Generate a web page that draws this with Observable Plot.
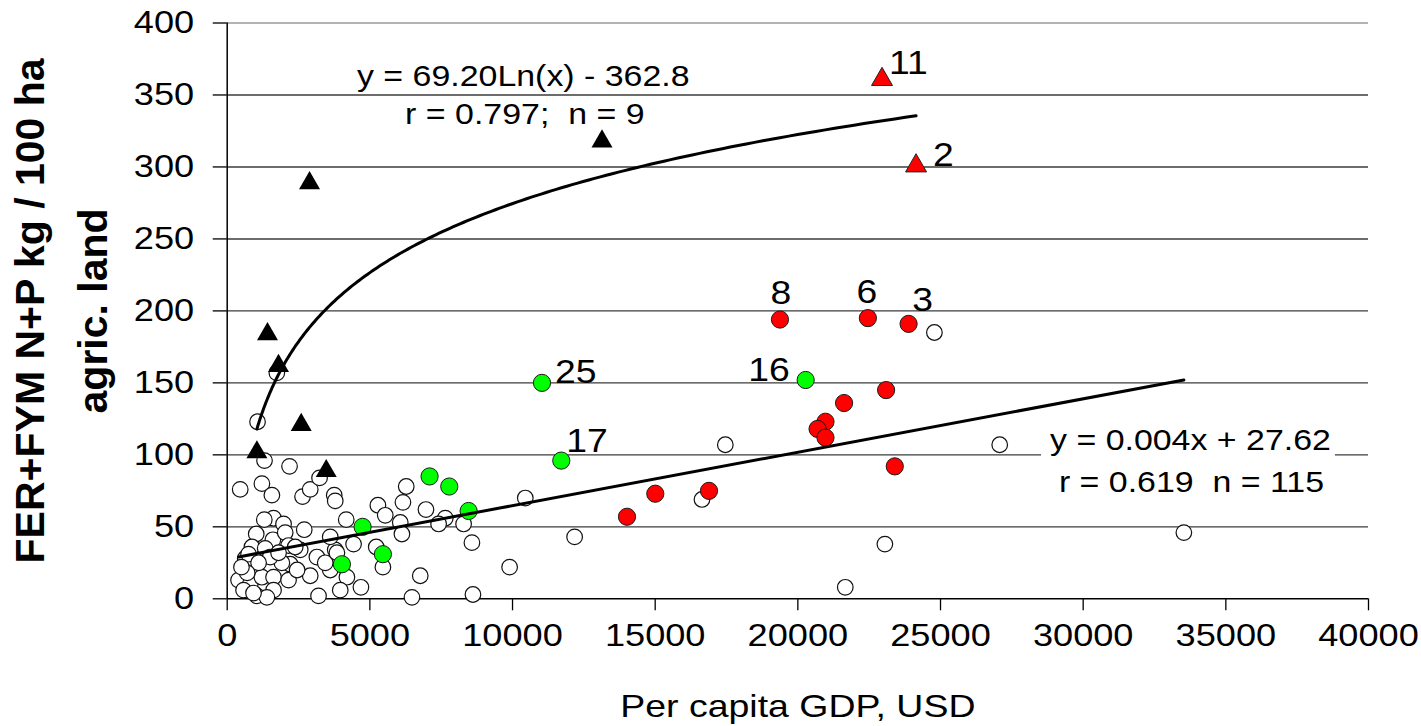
<!DOCTYPE html>
<html><head><meta charset="utf-8">
<script src="https://cdn.jsdelivr.net/npm/d3@7"></script>
<script src="https://cdn.jsdelivr.net/npm/@observablehq/plot@0.6"></script>
<style>html,body{margin:0;padding:0;background:#fff;} #chart svg{display:block;}</style>
</head><body><div id="chart"></div>
<script>
// ---------- data ----------
const xTicks = [0, 5000, 10000, 15000, 20000, 25000, 30000, 35000, 40000];
const yTicks = [0, 50, 100, 150, 200, 250, 300, 350, 400];
const xTitle = "Per capita GDP, USD";
const yTitleLines = ["FER+FYM N+P kg / 100 ha", "agric. land"];

// open circles: [GDP, FER+FYM]
const openPts = [
  [1063,123],[1308,96],[2185,92],[456,76],[1216,80],[1566,72],[2641,71],[2910,76],[3237,84],[3751,72],
  [3786,68],[6275,78],[6159,67],[5282,65],[6966,62],[5539,58],[4172,55],[6065,53],[7643,56],[7409,52],
  [8285,52],[6124,45],[4429,38],[5223,36],[5457,22],[8577,39],[3786,34],[4196,15],[3962,6],[4687,8],
  [6766,16],[6475,1],[8613,3],[3611,20],[3611,43],[1624,56],[1975,52],[1017,45],[1601,41],[2033,46],
  [2559,34],[2150,37],[866,36],[1332,35],[631,28],[866,22],[2209,24],[1916,25],[397,13],[806,10],
  [1216,15],[1624,15],[2150,13],[1624,6],[1041,2],[573,6],[1391,1],[2910,16],[3201,2],[3144,29],
  [3436,25],[2384,36],[747,31],[1507,29],[3845,32],[922,4],[10447,70],[12176,43],[9898,22],[16640,69],
  [17458,107],[24786,185],[27075,107],[23050,38],[21662,8],[33529,46],[1740,157],[1100,25],[700,18],[2450,20],
  [1800,32],[2700,48],[1300,55],[500,22]
];

const greenGDP = [11032, 11709, 20274, 7093, 7783, 8461, 4745, 5457, 4020];
const greenFer = [150, 96, 152, 85, 78, 61, 50, 31, 24];
const greenIds = ["25", "17", "16", null, null, null, null, null, null];

const redGDP = [19373, 22454, 23881, 23093, 21620, 20968, 20691, 20968, 23397, 14012, 15004, 16886];
const redFer = [194, 195, 191, 145, 136, 123, 118, 112, 92, 57, 73, 75];
const redIds = ["8", "6", "3", null, null, null, null, null, null, null, null, null];

const blackTriGDP = [1041, 1412, 1798, 2594, 2886, 3471, 13136];
const blackTriFer = [104, 186, 164, 123, 291, 91, 320];

const redTriGDP = [22950, 24143];
const redTriFer = [363, 303];
const redTriIds = ["11", "2"];

// trend lines (from the chart's equations)
const logFit = {a: 69.20, b: -362.8};
const linFit = {slope: 0.00371, intercept: 27.62};

const eqLabels = [
  {x: 10377, y: 356.5, text: "y = 69.20Ln(x) - 362.8"},
  {x: 10430, y: 329.5, text: "r = 0.797;  n = 9"},
  {x: 33760, y: 103.3, text: "y = 0.004x + 27.62", boxed: true},
  {x: 33795, y: 74.4, text: "r = 0.619  n = 115"}
];

// ---------- layout ----------
const labelLayout = {
  "11": {dx: 7, dy: -2, anchor: "start"},
  "2": {dx: 17, dy: 3, anchor: "start"},
  "8": {dx: 1, dy: -16, anchor: "middle"},
  "6": {dx: -1, dy: -15, anchor: "middle"},
  "3": {dx: 14, dy: -13, anchor: "middle"},
  "16": {dx: -16, dy: 1, anchor: "end"},
  "25": {dx: 13, dy: 0, anchor: "start"},
  "17": {dx: 5, dy: -9, anchor: "start"}
};

const FONT = "'Liberation Sans', Arial, sans-serif";
const toPts = (xs, ys, ids) => xs.map((x, i) => ({gdp: x, fer: ys[i], id: ids ? ids[i] : null}));

const openData = openPts.map(([x, y]) => ({gdp: x, fer: y, id: null}));
const greenData = toPts(greenGDP, greenFer, greenIds);
const redData = toPts(redGDP, redFer, redIds);
const blackTri = toPts(blackTriGDP, blackTriFer, null);
const redTri = toPts(redTriGDP, redTriFer, redTriIds);

const triAll = blackTri.concat(redTri);
const allPts = openData.concat(greenData, redData, triAll);

const [lx0, lx1] = d3.extent(triAll, d => d.gdp);
const logCurve = d3.range(0, 201).map(i => {
  const x = lx0 * Math.pow(lx1 / lx0, i / 200);
  return {gdp: x, fer: logFit.a * Math.log(x) + logFit.b};
});
const [ax0, ax1] = d3.extent(allPts, d => d.gdp);
const linLine = [ax0, ax1].map(x => ({gdp: x, fer: linFit.slope * x + linFit.intercept}));

const labeled = allPts.filter(d => d.id);

const labelMarks = Object.entries(labelLayout).map(([id, o]) =>
  Plot.text(labeled.filter(d => d.id === id), {
    x: "gdp", y: "fer", text: "id", dx: o.dx, dy: o.dy, textAnchor: o.anchor,
    lineAnchor: "bottom", fontSize: 33, fill: "black"
  })
);

const svg = Plot.plot({
  width: 1421,
  height: 726,
  marginLeft: 226.7,
  marginRight: 53,
  marginTop: 22.5,
  marginBottom: 127.7,
  style: {fontFamily: FONT, background: "white", color: "black", overflow: "visible"},
  x: {domain: [0, 40000], label: null},
  y: {domain: [0, 400], label: null},
  marks: [
    Plot.gridY(yTicks.filter(v => v > 0 && v < 400), {stroke: "#3c3c3c", strokeOpacity: 1, strokeWidth: 1.4}),
    Plot.gridY([400], {stroke: "#9a9a9a", strokeOpacity: 1, strokeWidth: 1.4}),
    Plot.ruleX([0], {stroke: "black", strokeWidth: 1.5}),
    Plot.ruleY([0], {stroke: "black", strokeWidth: 1.5}),
    Plot.axisY(yTicks, {tickSize: 14, tickPadding: 19, fontSize: 32, tickFormat: d => String(d), label: null, stroke: "black", strokeWidth: 1.3}),
    Plot.axisX(xTicks, {tickSize: 12, tickPadding: 12, fontSize: 32, tickFormat: d => String(d), label: null, stroke: "black", strokeWidth: 1.3}),
    Plot.dot(openData, {x: "gdp", y: "fer", r: 7.8, fill: "white", stroke: "#111", strokeWidth: 1.2}),
    Plot.dot(greenData, {x: "gdp", y: "fer", r: 8.6, fill: "#00FF00", stroke: "#1a1a1a", strokeWidth: 1}),
    Plot.dot(redData, {x: "gdp", y: "fer", r: 8.6, fill: "#FF0000", stroke: "#1a1a1a", strokeWidth: 1}),
    Plot.dot(blackTri, {x: "gdp", y: "fer", symbol: "triangle", r: 7.8, fill: "black", stroke: "none", dy: 3.2}),
    Plot.dot(redTri, {x: "gdp", y: "fer", symbol: "triangle", r: 7.8, fill: "#FF0000", stroke: "#222", strokeWidth: 1, dy: 3.2}),
    Plot.line(logCurve, {x: "gdp", y: "fer", stroke: "black", strokeWidth: 3}),
    Plot.line(linLine, {x: "gdp", y: "fer", stroke: "black", strokeWidth: 3}),
    Plot.text(eqLabels, {x: "x", y: "y", text: "text", fontSize: 30, lineAnchor: "bottom", textAnchor: "middle", fill: "black"}),
    ...labelMarks,
    Plot.text([xTitle], {frameAnchor: "bottom", text: d => d, dy: 118, lineAnchor: "bottom", fontSize: 32, fill: "black"}),
    Plot.text([yTitleLines[0]], {frameAnchor: "left", text: d => d, rotate: -90, dx: -183, lineAnchor: "bottom", textAnchor: "middle", fontSize: 41, fontWeight: "bold", fill: "black"}),
    Plot.text([yTitleLines[1]], {frameAnchor: "left", text: d => d, rotate: -90, dx: -120, lineAnchor: "bottom", textAnchor: "middle", fontSize: 41, fontWeight: "bold", fill: "black"})
  ]
});
document.getElementById("chart").append(svg);

// widen horizontal texts to the reference's proportions
const STRETCH = 1.13;
svg.querySelectorAll("text").forEach(t => {
  if ((t.getAttribute("transform") || "").includes("rotate")) return;
  const factor = t.textContent === xTitle ? 1.17 : STRETCH;
  const spans = t.querySelectorAll("tspan");
  const targets = spans.length ? Array.from(spans) : [t];
  targets.forEach(el => {
    const len = el.getComputedTextLength();
    if (len > 0) {
      el.setAttribute("textLength", (len * factor).toFixed(2));
      el.setAttribute("lengthAdjust", "spacingAndGlyphs");
    }
  });
});

// white box behind the boxed equation label
svg.querySelectorAll("text").forEach(t => {
  const lbl = eqLabels.find(e => e.boxed && e.text === t.textContent);
  if (!lbl) return;
  const b = t.getBBox();
  const r = document.createElementNS("http://www.w3.org/2000/svg", "rect");
  r.setAttribute("x", b.x - 9);
  r.setAttribute("y", b.y - 3);
  r.setAttribute("width", b.width + 13);
  r.setAttribute("height", b.height + 6);
  r.setAttribute("fill", "white");
  if (t.getAttribute("transform")) r.setAttribute("transform", t.getAttribute("transform"));
  t.parentNode.insertBefore(r, t);
});
</script></body></html>
